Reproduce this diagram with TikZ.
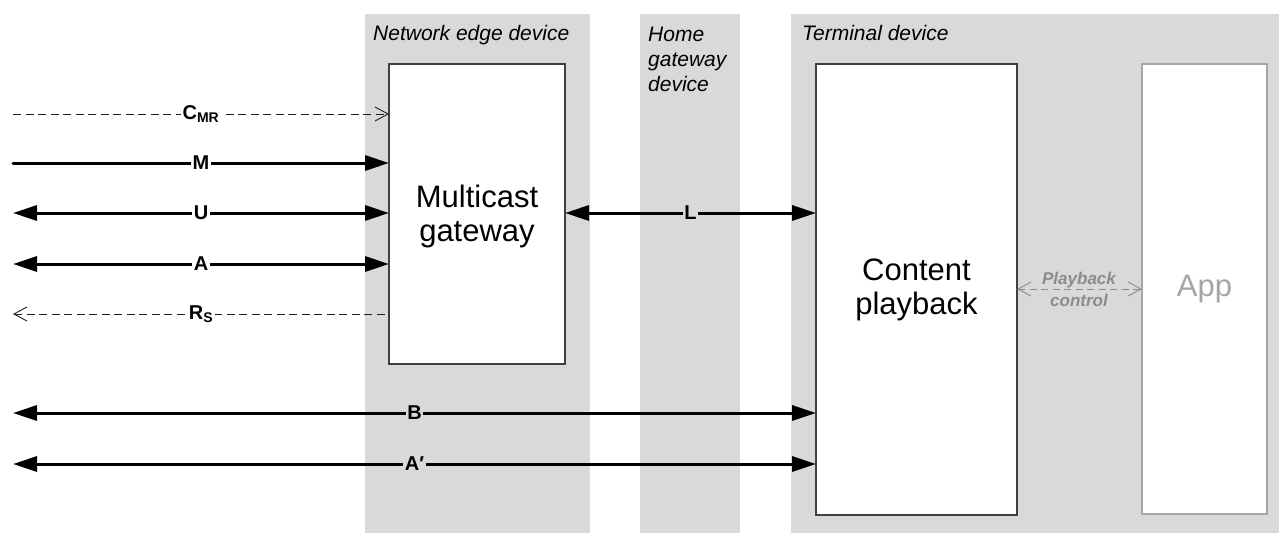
\documentclass[tikz,border=0pt]{standalone}
\usepackage{fontspec}
\setmainfont{Liberation Sans}
\usetikzlibrary{arrows.meta}
\definecolor{bg}{HTML}{D9D9D9}
\definecolor{boxline}{HTML}{404040}
\definecolor{appgray}{HTML}{A6A6A6}
\definecolor{ctrlgray}{HTML}{8C8C8C}
\definecolor{dashcol}{HTML}{202020}
\begin{document}
\begin{tikzpicture}[x=1pt,y=-1pt,
  region/.style={fill=bg, draw=none, anchor=north west, inner sep=0pt, outer sep=0pt},
  fbox/.style={fill=white, draw=boxline, line width=1.3pt, anchor=north west, inner sep=0pt, outer sep=0pt},
  appbox/.style={fill=white, draw=appgray, line width=1.3pt, anchor=north west, inner sep=0pt, outer sep=0pt},
  regtext/.style={anchor=base west, inner sep=0pt, font=\fontsize{21}{25}\selectfont\itshape, align=left},
  bigtext/.style={font=\fontsize{31}{34}\selectfont, align=center},
  heavy/.style={line width=3pt},
  tipF/.style={-{Triangle[length=24pt,width=15pt]}},
  tipFB/.style={{Triangle[length=24pt,width=15pt]}-{Triangle[length=24pt,width=15pt]}},
  thin dash/.style={draw=dashcol, line width=0.9pt, dash pattern=on 8pt off 4.5pt},
  openF/.style={-{Straight Barb[length=13pt,width=14pt,line width=0.9pt]}},
  openB/.style={{Straight Barb[length=13pt,width=14pt,line width=0.9pt]}-},
  lbl/.style={fill=white, inner sep=1.5pt, font=\fontsize{20}{22}\selectfont\bfseries},
  lblg/.style={fill=bg, inner sep=1.5pt, font=\fontsize{20}{22}\selectfont\bfseries}
]
\useasboundingbox (0,0) rectangle (1279,533);
% regions
\node[region, minimum width=225pt, minimum height=519pt] (ned) at (365,14) {};
\node[region, minimum width=100pt, minimum height=519pt] (hgd) at (640,14) {};
\node[region, minimum width=488pt, minimum height=519pt] (td) at (791,14) {};
\node[regtext] (nedt) at (373,40) {Network edge device};
\node[regtext, anchor=north west] (hgdt) at (648,26.5) {Home\\gateway\\device};
\node[regtext] (tdt) at (802,40) {Terminal device};
% boxes
\node[fbox, minimum width=176pt, minimum height=300pt] (mg) at (389,64) {};
\node[bigtext] (mgt) at ([yshift=-2pt]mg.center) {Multicast\\gateway};
\node[fbox, minimum width=201pt, minimum height=451pt] (cp) at (816,64) {};
\node[bigtext] (cpt) at (cp.center) {Content\\playback};
\node[appbox, minimum width=125pt, minimum height=450pt] (app) at (1142,64) {};
\node[bigtext, text=appgray] (appt) at (app.center) {App};
% left free ends
\coordinate (lC) at (13,114);
\coordinate (lM) at (13,163);
\coordinate (lU) at (13,213);
\coordinate (lA) at (13,264);
\coordinate (lR) at (13,314);
\coordinate (lB) at (13,413);
\coordinate (lAp) at (13,464);
% connectors
\draw[thin dash, openF] (lC) -- (lC -| mg.west) node[midway, lbl] {C\textsubscript{MR}};
\draw[heavy, tipF, line cap=round] (lM) -- (lM -| mg.west) node[midway, lbl] {M};
\draw[heavy, tipFB] (lU) -- (lU -| mg.west) node[midway, lbl] {U};
\draw[heavy, tipFB] (lA) -- (lA -| mg.west) node[midway, lbl] {A};
\draw[thin dash, openB] (lR) -- (lR -| mg.west) node[midway, lbl] {R\textsubscript{S}};
\draw[heavy, tipFB] (lB) -- (lB -| cp.west) node[midway, lblg] {B};
\draw[heavy, tipFB] (lAp) -- (lAp -| cp.west) node[midway, lblg] {A′};
\draw[heavy, tipFB] (mg.east |- lU) -- (cp.west |- lU) node[midway, lblg] {L};
\draw[draw=ctrlgray, line width=0.9pt, dash pattern=on 7pt off 4.5pt,
  {Straight Barb[length=13pt,width=14pt,line width=0.9pt]}-{Straight Barb[length=13pt,width=14pt,line width=0.9pt]}]
  (cp.east |- 0,289) -- (app.west |- 0,289);
\node[text=ctrlgray, font=\fontsize{17}{22}\selectfont\bfseries\itshape, align=center] (pc) at (1079,289) {Playback\\control};
\end{tikzpicture}
\end{document}
